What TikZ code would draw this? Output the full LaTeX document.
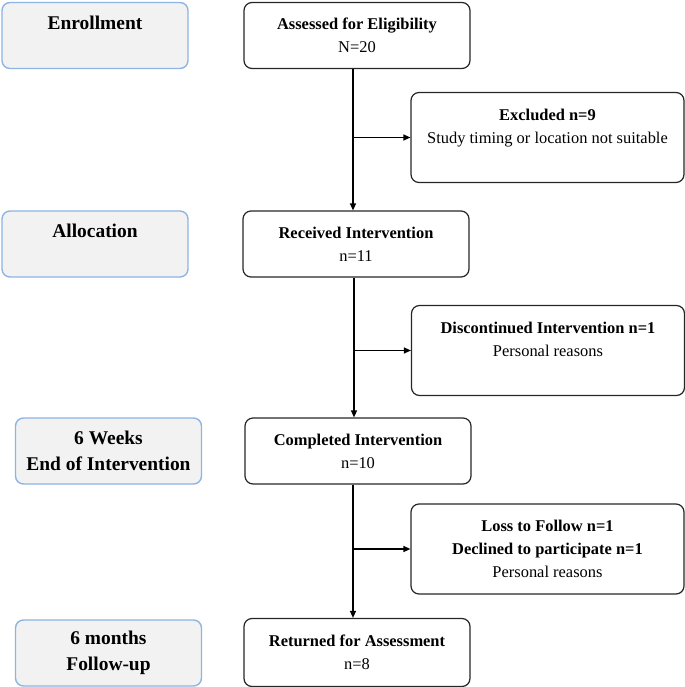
\documentclass[tikz,border=0pt]{standalone}
\usepackage{fontspec}
\setmainfont{Liberation Serif}
\usetikzlibrary{positioning}
\usetikzlibrary{arrows.meta}
\definecolor{stageblue}{HTML}{8EB4E3}
\definecolor{stagegray}{HTML}{F2F2F2}

\begin{document}
\begin{tikzpicture}[x=1bp,y=-1bp,>={Triangle[length=7bp,width=6bp]},
    stage/.style={draw=stageblue,fill=stagegray,line width=1.4bp,rounded corners=8bp,
      minimum width=186bp,minimum height=66bp,align=center,
      font=\fontsize{19.5}{26}\selectfont\bfseries},
    flowbox/.style={draw=black!85,line width=1.2bp,rounded corners=8bp,
      minimum width=226bp,minimum height=66bp,align=center,
      font=\fontsize{16.5}{23}\selectfont},
    sidebox/.style={flowbox,minimum width=273bp,minimum height=90bp}]
        \useasboundingbox (0,0) rectangle (685,687);

        % phases
        \node[stage] (enroll) at (95,35.5) {Enrollment\\~};
        \node[stage] (alloc)  at (95,244)  {Allocation\\~};
        \node[stage] (weeks)  at (108.5,451) {6 Weeks\\End of Intervention};
        \node[stage] (months) at (108.5,653) {6 months\\Follow-up};

        % main flow
        \node[flowbox] (assess) at (357,35.5) {\textbf{Assessed for Eligibility}\\N=20};
        \node[flowbox] (recv)   at (356,244)  {\textbf{Received Intervention}\\n=11};
        \node[flowbox] (compl)  at (358,451)  {\textbf{Completed Intervention}\\n=10};
        \node[flowbox,minimum height=68bp] (ret) at (357,652.5) {\textbf{Returned for Assessment}\\n=8};

        % losses
        \node[sidebox] (excl) at (547.5,137.5) {\textbf{Excluded n=9}\\Study timing or location not suitable\\~};
        \node[sidebox] (disc) at (548,350.5) {\textbf{Discontinued Intervention n=1}\\Personal reasons\\~};
        \node[sidebox] (loss) at (547.5,549) {\textbf{Loss to Follow n=1}\\\textbf{Declined to participate n=1}\\Personal reasons};

        \coordinate (t1) at ([xshift=-4bp]assess.south);
        \coordinate (t2) at ([xshift=-2bp]recv.south);
        \coordinate (t3) at ([xshift=-5bp]compl.south);

        \draw[line width=1.2bp,->] (t1) -- (t1 |- recv.north);
        \draw[line width=1.2bp,->] (t2) -- (t2 |- compl.north);
        \draw[line width=1.2bp,->] (t3) -- (t3 |- ret.north);
        \draw[line width=1.2bp,->] (t1 |- excl.west) -- (excl.west);
        \draw[line width=1.2bp,->] (t2 |- disc.west) -- (disc.west);
        \draw[line width=1.2bp,->] (t3 |- loss.west) -- (loss.west);
\end{tikzpicture}
\end{document}
